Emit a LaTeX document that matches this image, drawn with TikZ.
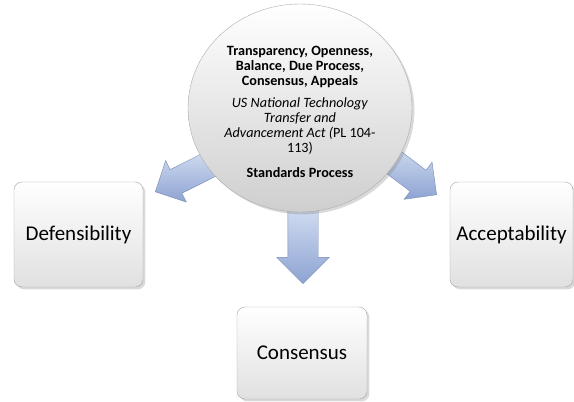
\documentclass[tikz,border=0pt]{standalone}
\usepackage{fontspec}
\setmainfont{Carlito}
\usetikzlibrary{shapes.arrows,shapes.geometric,shadows}
\definecolor{arrowdark}{HTML}{8DA3D2}
\definecolor{arrowlight}{HTML}{D3DEF2}
\definecolor{boxline}{HTML}{A6A6A6}
\begin{document}
\begin{tikzpicture}[x=1pt,y=-1pt,
  goal/.style={draw=boxline, rounded corners=8pt, top color=white, bottom color=gray!24,
    drop shadow={opacity=0.3}, font=\fontsize{21}{24}\selectfont, inner sep=0pt},
  push/.style={single arrow, draw=arrowdark!85!black, top color=arrowlight, bottom color=arrowdark,
    inner xsep=0pt, inner ysep=15pt, text height=0pt, text depth=0pt, single arrow head extend=11pt}]

\useasboundingbox (0,0) rectangle (574,402);

\node[push, rotate=-90, minimum height=78pt] (adown) at (303,237) {};
\node[push, rotate=206.6, minimum height=68pt, inner ysep=13pt, single arrow head extend=10pt] (aleft) at (191.6,173.6) {};
\node[push, rotate=-37, minimum height=68pt, inner ysep=13pt, single arrow head extend=10pt] (aright) at (404.2,170.3) {};

\node[draw=gray!65, ellipse, minimum width=224pt, minimum height=208pt, inner sep=0pt,
  top color=white, bottom color=gray!38, drop shadow={opacity=0.3}] (circ) at (300,108) {};
\node[align=center, font=\fontsize{14.2}{15}\selectfont] (proc) at (300,112)
  {\textbf{Transparency, Openness,}\\ \textbf{Balance, Due Process,}\\ \textbf{Consensus, Appeals}\\[7pt]
   \textit{US National Technology}\\ \textit{Transfer and}\\ \textit{Advancement Act (}PL 104-\\ 113)\\[10pt]
   \textbf{Standards Process}};

\node[goal, minimum width=129pt, minimum height=105pt] (defens) at (78.5,234.5) {Defensibility};
\node[goal, minimum width=123pt, minimum height=105pt] (accept) at (511.5,234.5) {Acceptability};
\node[goal, minimum width=130pt, minimum height=92pt] (consens) at (302,353) {Consensus};

\end{tikzpicture}
\end{document}
